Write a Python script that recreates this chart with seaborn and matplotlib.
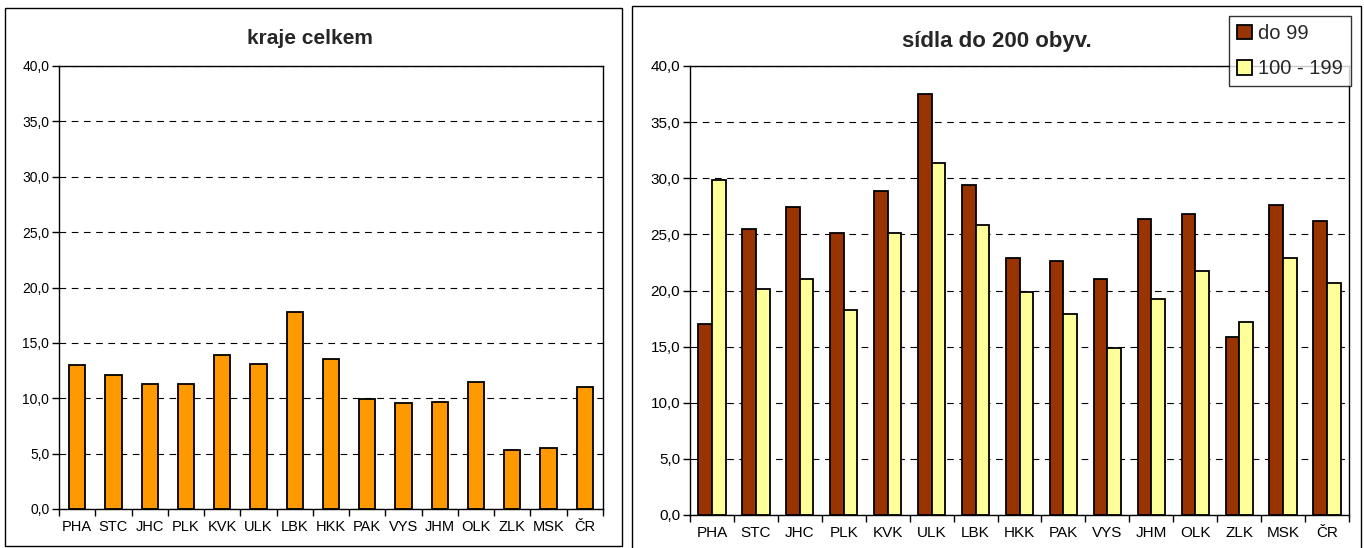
import matplotlib
matplotlib.use("Agg")
import matplotlib.pyplot as plt
from matplotlib.patches import Rectangle
from matplotlib.ticker import FuncFormatter, MultipleLocator
import numpy as np
import pandas as pd
import seaborn as sns

# Region codes and shares (%)
regions = ["PHA", "STC", "JHC", "PLK", "KVK", "ULK", "LBK", "HKK",
           "PAK", "VYS", "JHM", "OLK", "ZLK", "MSK", "ČR"]
total = [13.0, 12.1, 11.3, 11.3, 13.9, 13.1, 17.8, 13.5,
         9.9, 9.6, 9.7, 11.5, 5.3, 5.5, 11.0]
under_99 = [17.0, 25.5, 27.4, 25.1, 28.9, 37.5, 29.4, 22.9,
            22.6, 21.0, 26.4, 26.8, 15.9, 27.6, 26.2]
from_100_to_199 = [29.8, 20.1, 21.0, 18.3, 25.1, 31.4, 25.8, 19.9,
                   17.9, 14.9, 19.2, 21.7, 17.2, 22.9, 20.7]
series_names = ["do 99", "100 - 199"]
titles = ["kraje celkem", "sídla do 200 obyv."]

sns.set_theme(style="white")
plt.rcParams["font.family"] = ["Liberation Sans", "DejaVu Sans"]

W, H = 1364, 548
fig = plt.figure(figsize=(W / 100, H / 100), dpi=100)
fig.patch.set_facecolor("white")

def fig_rect(x0, y0, x1, y1):
    return [x0 / W, 1 - y1 / H, (x1 - x0) / W, (y1 - y0) / H]

# Panel frames
for (x0, y0, x1, y1) in [(5, 8, 622, 546), (632, 6, 1361, 552)]:
    fig.patches.append(Rectangle((x0 / W, 1 - y1 / H), (x1 - x0) / W, (y1 - y0) / H,
                                 transform=fig.transFigure, fill=False,
                                 edgecolor="black", linewidth=1.0, zorder=0))

ax1 = fig.add_axes(fig_rect(59, 66, 603, 509))
ax2 = fig.add_axes(fig_rect(690, 66, 1349, 515))

df1 = pd.DataFrame({"kraj": regions, "podil": total})
sns.barplot(data=df1, x="kraj", y="podil", ax=ax1, color="#FF9900",
            width=0.45, edgecolor="black", linewidth=1.3, saturation=1)

df2 = pd.DataFrame({
    "kraj": regions * 2,
    "podil": under_99 + from_100_to_199,
    "skupina": [series_names[0]] * len(regions) + [series_names[1]] * len(regions),
})
sns.barplot(data=df2, x="kraj", y="podil", hue="skupina", ax=ax2,
            palette=["#993300", "#FFFF99"], width=0.62,
            edgecolor="black", linewidth=1.3, saturation=1)

fmt = FuncFormatter(lambda v, p: f"{v:.1f}".replace(".", ","))
for ax, xsize, ysize in [(ax1, 10.5, 10), (ax2, 11, 11)]:
    ax.set_ylim(0, 40)
    ax.set_xlim(-0.5, len(regions) - 0.5)
    ax.yaxis.set_major_locator(MultipleLocator(5))
    ax.yaxis.set_major_formatter(fmt)
    ax.set_xlabel("")
    ax.set_ylabel("")
    ax.set_axisbelow(True)
    ax.yaxis.grid(True, color="black", linestyle=(0, (6, 5)), linewidth=0.8)
    ax.xaxis.grid(False)
    for s in ax.spines.values():
        s.set_visible(True)
        s.set_color("black")
        s.set_linewidth(1.0)
    ax.set_xticks(np.arange(len(regions)))
    ax.set_xticklabels(regions)
    ax.set_xticks(np.arange(len(regions) + 1) - 0.5, minor=True)
    ax.tick_params(axis="x", which="major", length=0, pad=8,
                   labelsize=xsize, colors="black")
    ax.tick_params(axis="x", which="minor", length=5, width=1.0,
                   direction="out", color="black", bottom=True)
    ax.tick_params(axis="y", which="major", length=5, width=1.0,
                   direction="out", left=True, labelsize=ysize,
                   colors="black", pad=2)
    ax.set_facecolor("white")

fig.text(310 / W, 1 - 38 / H, titles[0], ha="center", va="center",
         fontsize=15, fontweight="bold")
fig.text(997 / W, 1 - 42 / H, titles[1], ha="center", va="center",
         fontsize=16, fontweight="bold")

handles, labels = ax2.get_legend_handles_labels()
ax2.get_legend().remove()
leg = fig.legend(handles, labels, loc="upper left",
                 bbox_to_anchor=(1229 / W, 1 - 16 / H),
                 bbox_transform=fig.transFigure, frameon=True,
                 fancybox=False, edgecolor="black", fontsize=14.5,
                 handlelength=0.75, handleheight=0.75, handletextpad=0.3,
                 labelspacing=0.8, borderpad=0.4, borderaxespad=0)
leg.get_frame().set_linewidth(1.0)

fig.savefig("out.png", dpi=100, facecolor="white")
